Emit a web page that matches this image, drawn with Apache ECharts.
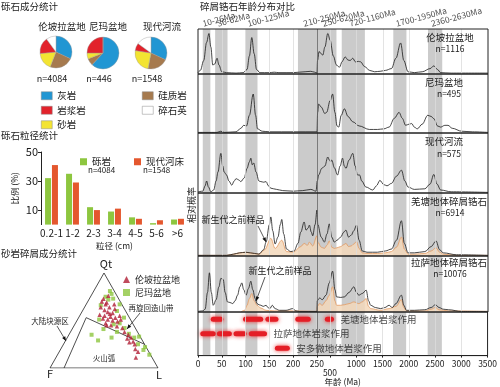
<!DOCTYPE html>
<html><head><meta charset="utf-8">
<script src="https://cdn.jsdelivr.net/npm/echarts@6/dist/echarts.min.js"></script>
<style>html,body{margin:0;padding:0;background:#fff}#c{width:500px;height:387px}</style>
</head><body><div id="c"></div>
<script>
// ===== DATA =====
const rockTypes = ['灰岩','硅质岩','砂岩','岩浆岩','碎石英'];
const pieLunpola = [32,24,17.5,16.5,10];
const pieNima = [62,7,6,25,0];
const pieRiver = [32,21,24.5,7.5,15];
const pieTitles = ['伦坡拉盆地','尼玛盆地','现代河流'];
const pieN = ['n=4084','n=446','n=1548'];

const sizeCats = ['0.2-1','1-2','2-3','3-4','4-5','5-6','>6'];
const sizeConglomerate = [32,35,12,9,5,1,3.5];
const sizeRiverbed = [41,29,10,11,4,3,4];
const sizeTicks = [10,30,50];

// ternary [Qt, F, L]
const ternLunpola = [[70,17,13],[67,15,18],[64,13,23],[61,19,20],[59,17,24],[58,13,29],[56,26,18],[55,22,23],[54,17,29],[53,13,34],[52,25,23],[51,21,28],[50,17,33],[49,13,38],[57,16,27],[69,13,18],[62,9,29],[55,8,37],[47,25,28],[45,21,34],[44,16,40],[42,12,46],[45,25,30],[38,12,50],[35,10,55],[32,9,59],[28,9,63],[25,9,66],[20,11,69],[17,10,73],[11,15,74],[27,13,60],[31,13,56],[51,9,40],[67,7,26],[64,21,15],[73,14,13],[76,8,16]];
const ternNima = [[81,4,15],[78,4,18],[75,11,14],[73,5,22],[66,20,14],[60,8,32],[51,29,20],[47,12,41],[35,44,21],[29,41,30],[32,27,41],[38,19,43],[42,10,48],[36,9,55],[32,6,62],[25,6,69],[33,1,66],[22,1,77],[14,1,85],[19,4,77],[67,2,31],[41,30,29],[53,5,42],[72,10,18],[46,18,36]];
const ternOutline = [[100,0,0],[0,100,0],[0,0,100],[100,0,0]];
const ternBoundaryA = [[0,87,13],[53,40,7]];
const ternBoundaryB = [[53,40,7],[25,0,75]];

// zircon age KDE curves [age Ma, relative probability]
const kdeLunpola = [[0,0.03],[5,0.08],[12,0.3],[18,0.7],[23,0.9],[27,0.6],[31,0.2],[35,0.22],[40,0.35],[44,0.2],[50,0.05],[60,0.03],[80,0.02],[95,0.03],[103,0.1],[108,0.4],[113,0.81],[118,0.45],[123,0.1],[130,0.03],[150,0.03],[160,0.04],[170,0.03],[200,0.03],[225,0.05],[237,0.06],[245,0.04],[250,0.02],[260,0.3],[290,0.5],[330,0.45],[360,0.42],[400,0.6],[455,0.9],[500,0.75],[560,0.4],[620,0.2],[676,0.15],[730,0.28],[785,0.38],[840,0.31],[880,0.3],[930,0.35],[980,0.27],[1040,0.28],[1080,0.27],[1150,0.17],[1250,0.08],[1345,0.05],[1450,0.06],[1550,0.08],[1665,0.12],[1750,0.35],[1840,0.69],[1900,0.3],[1980,0.05],[2100,0.03],[2250,0.05],[2400,0.12],[2470,0.18],[2540,0.1],[2600,0.03],[2800,0.02],[3500,0.02]];
const kdeNima = [[0,0.01],[40,0.01],[48,0.03],[55,0.01],[80,0.02],[90,0.08],[96,0.13],[102,0.12],[108,0.3],[116,0.66],[121,0.3],[125,0.07],[135,0.03],[150,0.02],[200,0.02],[250,0.02],[262,0.35],[282,0.49],[330,0.44],[400,0.33],[433,0.35],[500,0.55],[547,0.66],[590,0.35],[630,0.12],[663,0.1],[710,0.3],[770,0.41],[840,0.28],[930,0.19],[1050,0.12],[1245,0.06],[1400,0.06],[1520,0.07],[1620,0.1],[1720,0.25],[1810,0.35],[1870,0.25],[1935,0.13],[2000,0.15],[2050,0.16],[2100,0.1],[2155,0.07],[2250,0.15],[2355,0.3],[2420,0.28],[2475,0.24],[2540,0.12],[2600,0.1],[2680,0.13],[2740,0.13],[2820,0.08],[3000,0.03],[3200,0.02],[3500,0.01]];
const kdeRiver = [[0,0.02],[10,0.03],[15,0.12],[18,0.2],[22,0.1],[27,0.02],[33,0.05],[38,0.2],[42,0.35],[48,0.66],[52,0.45],[55,0.35],[60,0.3],[65,0.2],[71,0.13],[76,0.2],[80,0.24],[85,0.22],[90,0.19],[97,0.25],[103,0.41],[108,0.52],[111,0.58],[114,0.47],[117,0.5],[122,0.35],[128,0.2],[132,0.19],[138,0.18],[143,0.19],[148,0.12],[153,0.08],[165,0.06],[178,0.04],[200,0.03],[220,0.04],[237,0.06],[248,0.03],[255,0.2],[282,0.3],[340,0.41],[400,0.45],[455,0.6],[485,0.55],[510,0.52],[530,0.55],[580,0.42],[640,0.3],[690,0.45],[735,0.58],[770,0.45],[800,0.41],[860,0.55],[930,0.66],[975,0.45],[1020,0.3],[1060,0.3],[1100,0.2],[1180,0.1],[1310,0.05],[1380,0.12],[1445,0.21],[1520,0.14],[1580,0.12],[1665,0.16],[1760,0.28],[1855,0.38],[1920,0.2],[1980,0.1],[2100,0.06],[2300,0.07],[2400,0.15],[2470,0.31],[2530,0.15],[2600,0.05],[2800,0.02],[3500,0.01]];
const kdeQiangtang = [[0,0.01],[60,0.01],[75,0.03],[87,0.05],[100,0.06],[110,0.05],[128,0.03],[138,0.1],[143,0.22],[150,0.5],[153,0.62],[157,0.4],[162,0.19],[168,0.3],[173,0.5],[176,0.58],[180,0.35],[186,0.11],[195,0.07],[202,0.08],[210,0.2],[216,0.38],[223,0.54],[227,0.41],[231,0.44],[234,0.49],[238,0.38],[241,0.32],[246,0.5],[250,0.73],[265,0.5],[330,0.3],[390,0.22],[440,0.35],[484,0.51],[530,0.3],[579,0.22],[630,0.25],[700,0.3],[760,0.38],[800,0.41],[850,0.3],[900,0.33],[950,0.4],[1000,0.49],[1050,0.25],[1110,0.08],[1200,0.06],[1400,0.06],[1550,0.08],[1665,0.11],[1760,0.25],[1855,0.56],[1910,0.2],[1980,0.05],[2100,0.05],[2300,0.07],[2420,0.15],[2512,0.24],[2580,0.1],[2650,0.05],[2900,0.02],[3500,0.01]];
const kdeQiangtangPre = [[0,0.01],[60,0.01],[75,0.03],[87,0.05],[100,0.06],[110,0.05],[128,0.03],[140,0.1],[153,0.28],[162,0.12],[176,0.25],[186,0.07],[200,0.06],[216,0.15],[223,0.2],[230,0.17],[234,0.22],[241,0.16],[250,0.32],[265,0.22],[330,0.14],[390,0.12],[440,0.17],[484,0.24],[530,0.14],[579,0.12],[630,0.13],[700,0.15],[760,0.18],[800,0.2],[850,0.15],[900,0.16],[950,0.19],[1000,0.23],[1050,0.12],[1110,0.05],[1200,0.04],[1400,0.04],[1550,0.05],[1665,0.07],[1760,0.14],[1855,0.3],[1910,0.11],[1980,0.03],[2100,0.03],[2300,0.04],[2420,0.08],[2512,0.13],[2580,0.06],[2650,0.03],[2900,0.01],[3500,0.01]];
const kdeLhasa = [[0,0.01],[10,0.02],[15,0.05],[20,0.35],[24,0.7],[28,0.35],[32,0.12],[38,0.22],[44,0.45],[48,0.6],[53,0.58],[57,0.35],[62,0.18],[67,0.17],[73,0.15],[78,0.2],[83,0.3],[88,0.45],[92,0.52],[96,0.4],[101,0.3],[106,0.42],[111,0.55],[115,0.4],[120,0.24],[124,0.15],[128,0.13],[132,0.12],[137,0.1],[143,0.12],[147,0.08],[151,0.06],[156,0.12],[162,0.06],[171,0.03],[185,0.03],[199,0.06],[206,0.02],[213,0.01],[250,0.01],[255,0.2],[300,0.25],[350,0.22],[420,0.3],[484,0.52],[547,0.73],[590,0.4],[623,0.27],[700,0.26],[770,0.27],[860,0.35],[950,0.45],[1000,0.35],[1045,0.3],[1110,0.33],[1185,0.39],[1230,0.2],[1270,0.12],[1360,0.08],[1460,0.06],[1540,0.08],[1620,0.12],[1680,0.08],[1750,0.15],[1855,0.3],[1900,0.12],[1950,0.03],[2100,0.03],[2300,0.04],[2420,0.08],[2500,0.13],[2570,0.08],[2650,0.05],[2750,0.04],[3000,0.01],[3500,0.01]];
const kdeLhasaPre = [[90,0],[98,0.03],[103,0.12],[108,0.24],[113,0.33],[118,0.2],[124,0.12],[132,0.07],[143,0.03],[160,0.02],[200,0.02],[250,0.01],[255,0.1],[300,0.15],[350,0.12],[420,0.2],[484,0.3],[547,0.45],[590,0.2],[623,0.12],[700,0.12],[770,0.13],[860,0.15],[950,0.18],[1045,0.15],[1110,0.18],[1185,0.24],[1230,0.1],[1270,0.06],[1460,0.03],[1620,0.06],[1750,0.1],[1855,0.22],[1900,0.08],[1950,0.02],[2300,0.02],[2420,0.05],[2500,0.08],[2570,0.04],[2750,0.02],[3500,0.01]];

const panelNames = ['伦坡拉盆地','尼玛盆地','现代河流','羌塘地体碎屑锆石','拉萨地体碎屑锆石'];
const panelN = ['n=1116','n=495','n=575','n=6914','n=10076'];

const bandRanges = [[10,26],[36,62],[100,125],[210,250],[250,620],[720,1160],[1700,1950],[2360,2630]];
const bandLabels = ['10-26Ma','36-62Ma','100-125Ma','210-250Ma','250-620Ma','720-1160Ma','1700-1950Ma','2360-2630Ma'];
const ageTicks = [0,50,100,150,200,250,500,1000,1500,2000,2500,3000,3500];

const magmaRows = ['安多微地体','拉萨地体','羌塘地体'];
const magmaLabels = ['安多微地体岩浆作用','拉萨地体岩浆作用','羌塘地体岩浆作用'];
const magmaQiangtang = [[32,48],[100,132],[147,164],[210,232],[450,530]];
const magmaLhasa = [[10,32],[45,66],[80,97],[112,140]];
const magmaAnduo = [[167,188]];

// ===== STYLE / LAYOUT =====
const FONT = '"Noto Sans CJK SC","Noto Sans",sans-serif';
const TXT = '#1a1a1a';
const rockColors = {'灰岩':'#2196d3','硅质岩':'#a67a4e','砂岩':'#f3e432','岩浆岩':'#e2222b','碎石英':'#ffffff'};
const K = (171/119)*250/3250;
const fx = a => a <= 250 ? a : 250 + (a-250)*K;
const inv = v => v <= 250 ? v : 250 + (v-250)/K;
const XMAX = fx(3500);

const grids = [], xAxes = [], yAxes = [], series = [];
// 0 bar
grids.push({left:41, top:152, width:147, height:72.6});
xAxes.push({gridIndex:0, type:'category', data:sizeCats, axisLine:{show:false}, axisTick:{show:false},
  axisLabel:{fontSize:10, color:TXT, margin:4, interval:0},
  name:'粒径 (cm)', nameLocation:'middle', nameGap:17, nameTextStyle:{fontSize:8.5, color:TXT}});
yAxes.push({gridIndex:0, type:'value', min:0, max:50, splitLine:{show:false},
  axisLine:{show:true, lineStyle:{color:'#222'}}, axisTick:{show:true, length:3, customValues:sizeTicks, lineStyle:{color:'#222'}},
  axisLabel:{fontSize:11, color:TXT, margin:3, customValues:sizeTicks},
  name:'比例 (%)', nameLocation:'middle', nameGap:22, nameTextStyle:{fontSize:8.5, color:TXT}});
series.push({type:'bar', name:'砾岩', xAxisIndex:0, yAxisIndex:0, data:sizeConglomerate, barWidth:6, barGap:'15%', itemStyle:{color:'#8dc63f'}});
series.push({type:'bar', name:'现代河床', xAxisIndex:0, yAxisIndex:0, data:sizeRiverbed, barWidth:6, barGap:'15%', itemStyle:{color:'#e4572e'}});

// 1 ternary
grids.push({left:50, top:273, width:108, height:95});
xAxes.push({gridIndex:1, type:'value', min:0, max:1, show:false});
yAxes.push({gridIndex:1, type:'value', min:0, max:1, show:false});
const tern = p => [(p[2] + p[0]/2)/100, p[0]/100];
[ternOutline, ternBoundaryA, ternBoundaryB].forEach(arr => series.push({type:'line', xAxisIndex:1, yAxisIndex:1, data:arr.map(tern),
  showSymbol:false, silent:true, lineStyle:{color:'#222', width:0.8}, z:2}));
series.push({type:'scatter', name:'尼玛盆地', xAxisIndex:1, yAxisIndex:1, data:ternNima.map(tern), symbol:'rect', symbolSize:4, itemStyle:{color:'#8dc63f'}, z:3});
series.push({type:'scatter', name:'伦坡拉盆地', xAxisIndex:1, yAxisIndex:1, data:ternLunpola.map(tern), symbol:'triangle', symbolSize:4.5, itemStyle:{color:'#b01e35'}, z:4});

// zircon panels
const panelTops = [29,74,133,193,256,312];
const panelH = [45,59,60,63,56,49];
const curves = [[kdeLunpola],[kdeNima],[kdeRiver],[kdeQiangtang,kdeQiangtangPre],[kdeLhasa,kdeLhasaPre]];
const bandAreas = bandRanges.map(r => [{xAxis:fx(r[0])},{xAxis:fx(r[1])}]);
const lightLines = ageTicks.filter(a => a>0 && a<3500 && a!==250).map(a => ({xAxis:fx(a)}));
for (let i=0;i<6;i++){
  const gi = 2+i;
  grids.push({left:198, top:panelTops[i], width:290, height:panelH[i], show:true, borderColor:'#222', borderWidth:1, z:10});
  const isBottom = i===5;
  xAxes.push({gridIndex:gi, type:'value', min:0, max:XMAX, show:isBottom, splitLine:{show:false},
    axisLine:{show:isBottom, lineStyle:{color:'#222'}},
    axisTick:{show:isBottom, length:2, customValues:ageTicks.map(fx), lineStyle:{color:'#222'}},
    axisLabel:{show:isBottom, fontSize:8.5, color:TXT, margin:4, customValues:ageTicks.map(fx),
      formatter: v => { const a = Math.round(inv(v)/50)*50; return a===500 ? '\n500' : String(a); }},
    name: isBottom ? '年龄 (Ma)' : '', nameLocation:'middle', nameGap:15, nameTextStyle:{fontSize:8.5, color:TXT}});
  if (isBottom) yAxes.push({gridIndex:gi, type:'category', data:magmaRows, show:false});
  else yAxes.push({gridIndex:gi, type:'value', min:0, max:1, show:false});
  series.push({type:'line', xAxisIndex:gi, yAxisIndex:gi, data:[], silent:true, z:1,
    markArea:{silent:true, itemStyle:{color:'#cbcbcb'}, data:bandAreas}});
  series.push({type:'line', xAxisIndex:gi, yAxisIndex:gi, data:[], silent:true, z:2,
    markLine:{silent:true, symbol:'none', label:{show:false}, animation:false,
      data:[...lightLines.map(d=>Object.assign({lineStyle:{color:'#dcdcdc', width:0.8, type:'solid'}}, d)),
            {xAxis:fx(250), lineStyle:{color:'#666', width:0.8, type:'solid'}}]}});
  if (!isBottom){
    const cs = curves[i];
    if (cs[1]) series.push({type:'line', xAxisIndex:gi, yAxisIndex:gi, data:cs[1].map(p=>[fx(p[0]),p[1]]), showSymbol:false, smooth:0.35, smoothMonotone:'x',
      lineStyle:{color:'#e39a62', width:0.8}, areaStyle:{color:'#f3d8bb', opacity:0.85}, z:3, silent:true});
    series.push({type:'line', xAxisIndex:gi, yAxisIndex:gi, data:cs[0].map(p=>[fx(p[0]),p[1]]), showSymbol:false, smooth:0.35, smoothMonotone:'x',
      lineStyle:{color:'#1a1a1a', width:0.8}, z:4, silent:true});
  }
}
// band labels on top panel
series.push({type:'scatter', xAxisIndex:2, yAxisIndex:2, symbolSize:0, clip:false, silent:true, z:5,
  data: bandRanges.map((r,k)=>({name:bandLabels[k], value:[(fx(r[0])+fx(r[1]))/2, 1]})),
  label:{show:true, formatter:'{b}', position:'top', distance:2, align:'left', rotate:15, offset:[-3,0], fontSize:8.5, color:TXT}});
// magmatism rows
const magmaSets = [magmaAnduo, magmaLhasa, magmaQiangtang];
magmaSets.forEach((segs, r) => {
  segs.forEach(s => {
    series.push({type:'line', xAxisIndex:7, yAxisIndex:7, silent:true, z:4, showSymbol:false,
      data:[[fx(s[0]), magmaRows[r]], [fx(s[1]), magmaRows[r]]],
      lineStyle:{color:'#e41e26', width:5, cap:'round', shadowBlur:4, shadowColor:'rgba(235,30,30,0.9)'}});
  });
});
series.push({type:'scatter', xAxisIndex:7, yAxisIndex:7, silent:true, z:6, symbolSize:0,
  data: magmaSets.map((segs, r) => ({name:magmaLabels[r], value:[fx(segs[segs.length-1][1]), magmaRows[r]]})),
  label:{show:true, formatter:'{b}', position:'right', distance:9, fontSize:9.5, color:TXT}});

// pies
const pieData = [pieLunpola, pieNima, pieRiver];
const pieCenters = [[56,52],[103,53],[151,53]];
pieData.forEach((vals, i) => series.push({type:'pie', radius:16, center:pieCenters[i], startAngle:90, silent:true,
  label:{show:false}, labelLine:{show:false},
  itemStyle:{borderColor:'#999', borderWidth:0.4},
  data: vals.map((v,k)=>({name:rockTypes[k], value:v, itemStyle:{color:rockColors[rockTypes[k]]}}))}));

// ===== TEXT / ANNOTATIONS =====
const T = (x,y,text,size,align,extra) => Object.assign({type:'text', x, y, z:100, silent:true,
  style:{text, fontSize:size, fontFamily:FONT, fill:TXT, align:align||'center', verticalAlign:'middle'}}, extra||{});
function arrow(x1,y1,x2,y2){
  const a=Math.atan2(y2-y1,x2-x1), L=4.5, W=1.8;
  const pts=[[x2,y2],[x2-L*Math.cos(a)+W*Math.sin(a), y2-L*Math.sin(a)-W*Math.cos(a)],[x2-L*Math.cos(a)-W*Math.sin(a), y2-L*Math.sin(a)+W*Math.cos(a)]];
  return [{type:'line', z:100, silent:true, shape:{x1,y1,x2,y2}, style:{stroke:'#111', lineWidth:0.7}},
          {type:'polygon', z:100, silent:true, shape:{points:pts}, style:{fill:'#111'}}];
}
const graphics = [
  T(1,6,'砾石成分统计',9.5,'left'),
  T(62,26,pieTitles[0],9.5), T(108,26,pieTitles[1],9.5), T(162,26,pieTitles[2],9.5),
  T(52,79,pieN[0],9), T(99,79,pieN[1],9), T(147,79,pieN[2],9),
  T(1,135,'砾石粒径统计',9.5,'left'),
  T(88,169.5,'n=4084',8,'left'), T(143,170,'n=1548',8,'left'),
  T(1,253,'砂岩碎屑成分统计',9.5,'left'),
  T(106,264,'Qt',11), T(50,374,'F',11), T(159,375,'L',11),
  T(50,321,'大陆块源区',7.5), T(151,308,'再旋回造山带',7.5), T(104,358,'火山弧',7.5),
  ...arrow(57,326,66,341), ...arrow(140,313,127,329),
  T(200,6,'碎屑锆石年龄分布对比',9.5,'left'),
  T(192,205,'相对概率',9,'center',{rotation:Math.PI/2}),
  T(450,37,panelNames[0],9.5), T(450,49,panelN[0],8.5),
  T(444,82,panelNames[1],9.5), T(449,94,panelN[1],8.5),
  T(444,141,panelNames[2],9.5), T(449,154,panelN[2],8.5),
  T(449,201,panelNames[3],9.5), T(450,213,panelN[3],8.5),
  T(449,262,panelNames[4],9.5), T(450,274,panelN[4],8.5),
  T(233,220,'新生代之前样品',9), ...arrow(258,226,266,242),
  T(280,271,'新生代之前样品',9), ...arrow(265,277,256,301)
];

const legendBase = {orient:'vertical', itemWidth:11, itemHeight:8, itemGap:5, textStyle:{fontSize:9.5, color:TXT, lineHeight:9}, icon:'rect',
  itemStyle:{borderColor:'#888', borderWidth:0.5}, selectedMode:false};

const chart = echarts.init(document.getElementById('c'), null, {renderer:'canvas'});
chart.setOption({
  animation:false,
  textStyle:{fontFamily:FONT},
  grid:grids, xAxis:xAxes, yAxis:yAxes, series,
  legend:[
    Object.assign({}, legendBase, {left:36, top:86, data:['灰岩','岩浆岩','砂岩']}),
    Object.assign({}, legendBase, {left:137, top:86, data:['硅质岩','碎石英']}),
    {left:75, top:152, orient:'horizontal', itemWidth:7, itemHeight:7, itemGap:23, icon:'rect', selectedMode:false,
      textStyle:{fontSize:9.5, color:TXT}, data:['砾岩','现代河床']},
    {left:118, top:270, orient:'vertical', itemWidth:7, itemHeight:7, itemGap:4, selectedMode:false,
      textStyle:{fontSize:9, color:TXT, lineHeight:9}, data:[{name:'伦坡拉盆地', icon:'triangle'},{name:'尼玛盆地', icon:'rect'}]}
  ],
  graphic:graphics
});
</script></body></html>
